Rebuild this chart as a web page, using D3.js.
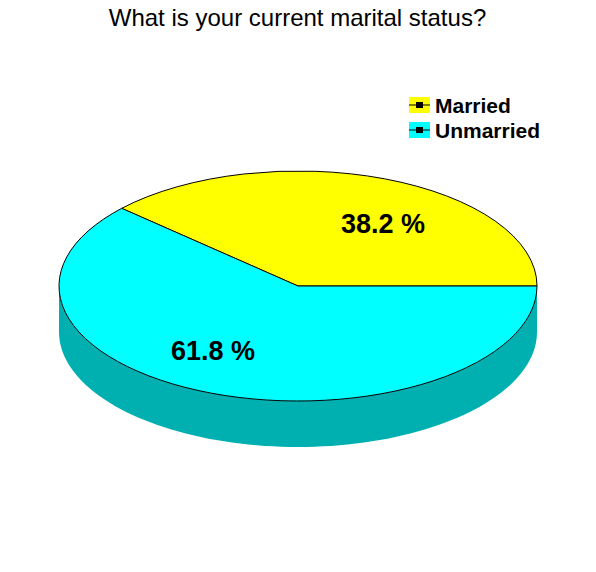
<!DOCTYPE html>
<html><head><meta charset="utf-8">
<script src="https://cdn.jsdelivr.net/npm/d3@7"></script>
<style>html,body{margin:0;background:#fff}svg{display:block}text{font-family:"Liberation Sans",Arial,sans-serif;fill:#000}</style>
</head><body><div id="c"></div>
<script>
const titleText = "What is your current marital status?";
const categories = ["Married", "Unmarried"];
const values = [38.2, 61.8];
const labels = ["38.2 %", "61.8 %"];
const topColors = ["#ffff00", "#00ffff"];
const sideColor = "#00b0b0";

const W = 596, H = 572, cx = 298, cy = 286, rx = 239, ry = 115, depth = 46;
const svg = d3.select("#c").append("svg").attr("width", W).attr("height", H);

svg.append("text").attr("x", 297.5).attr("y", 26).attr("text-anchor", "middle")
  .attr("font-size", 24).text(titleText);

const pie = d3.pie().sort(null).value(d => d)
  .startAngle(Math.PI / 2).endAngle(Math.PI / 2 - 2 * Math.PI);
const arcs = pie(values);
const arc = d3.arc().innerRadius(0).outerRadius(rx);
const yScale = ry / rx;

// cylinder wall: lower half of the ellipse, extruded downward
const wallAngles = d3.range(0, 181, 2).map(a => a * Math.PI / 180);
const wall = d3.area()
  .x(a => cx + rx * Math.cos(a))
  .y0(a => cy + ry * Math.sin(a))
  .y1(a => cy + depth + ry * Math.sin(a));
svg.append("path").attr("d", wall(wallAngles)).attr("fill", sideColor);

const topFace = svg.append("g").attr("transform", `translate(${cx},${cy}) scale(1,${yScale})`);
topFace.selectAll("path").data(arcs).join("path")
  .attr("d", arc)
  .attr("fill", (d, i) => topColors[i])
  .attr("stroke", "#000").attr("stroke-width", 1)
  .attr("vector-effect", "non-scaling-stroke")
  .attr("stroke-linejoin", "round");

const labelPos = [[383, 233], [213, 360]];
svg.selectAll("text.pct").data(labels).join("text").attr("class", "pct")
  .attr("x", (d, i) => labelPos[i][0]).attr("y", (d, i) => labelPos[i][1])
  .attr("text-anchor", "middle").attr("font-size", 27).attr("font-weight", "bold")
  .text(d => d);

const legY = d3.scalePoint().domain(categories).range([105, 130]);
const leg = svg.selectAll("g.leg").data(categories).join("g").attr("class", "leg")
  .attr("transform", d => `translate(0,${legY(d)})`);
leg.append("rect").attr("x", 409).attr("y", -8).attr("width", 21).attr("height", 16)
  .attr("fill", (d, i) => topColors[i]);
leg.append("line").attr("x1", 409).attr("x2", 430).attr("stroke", "#000").attr("stroke-width", 1);
leg.append("rect").attr("x", 416).attr("y", -3).attr("width", 7).attr("height", 6).attr("fill", "#000");
leg.append("text").attr("x", 435).attr("y", 8).attr("font-size", 21).attr("font-weight", "bold").text(d => d);
</script></body></html>
